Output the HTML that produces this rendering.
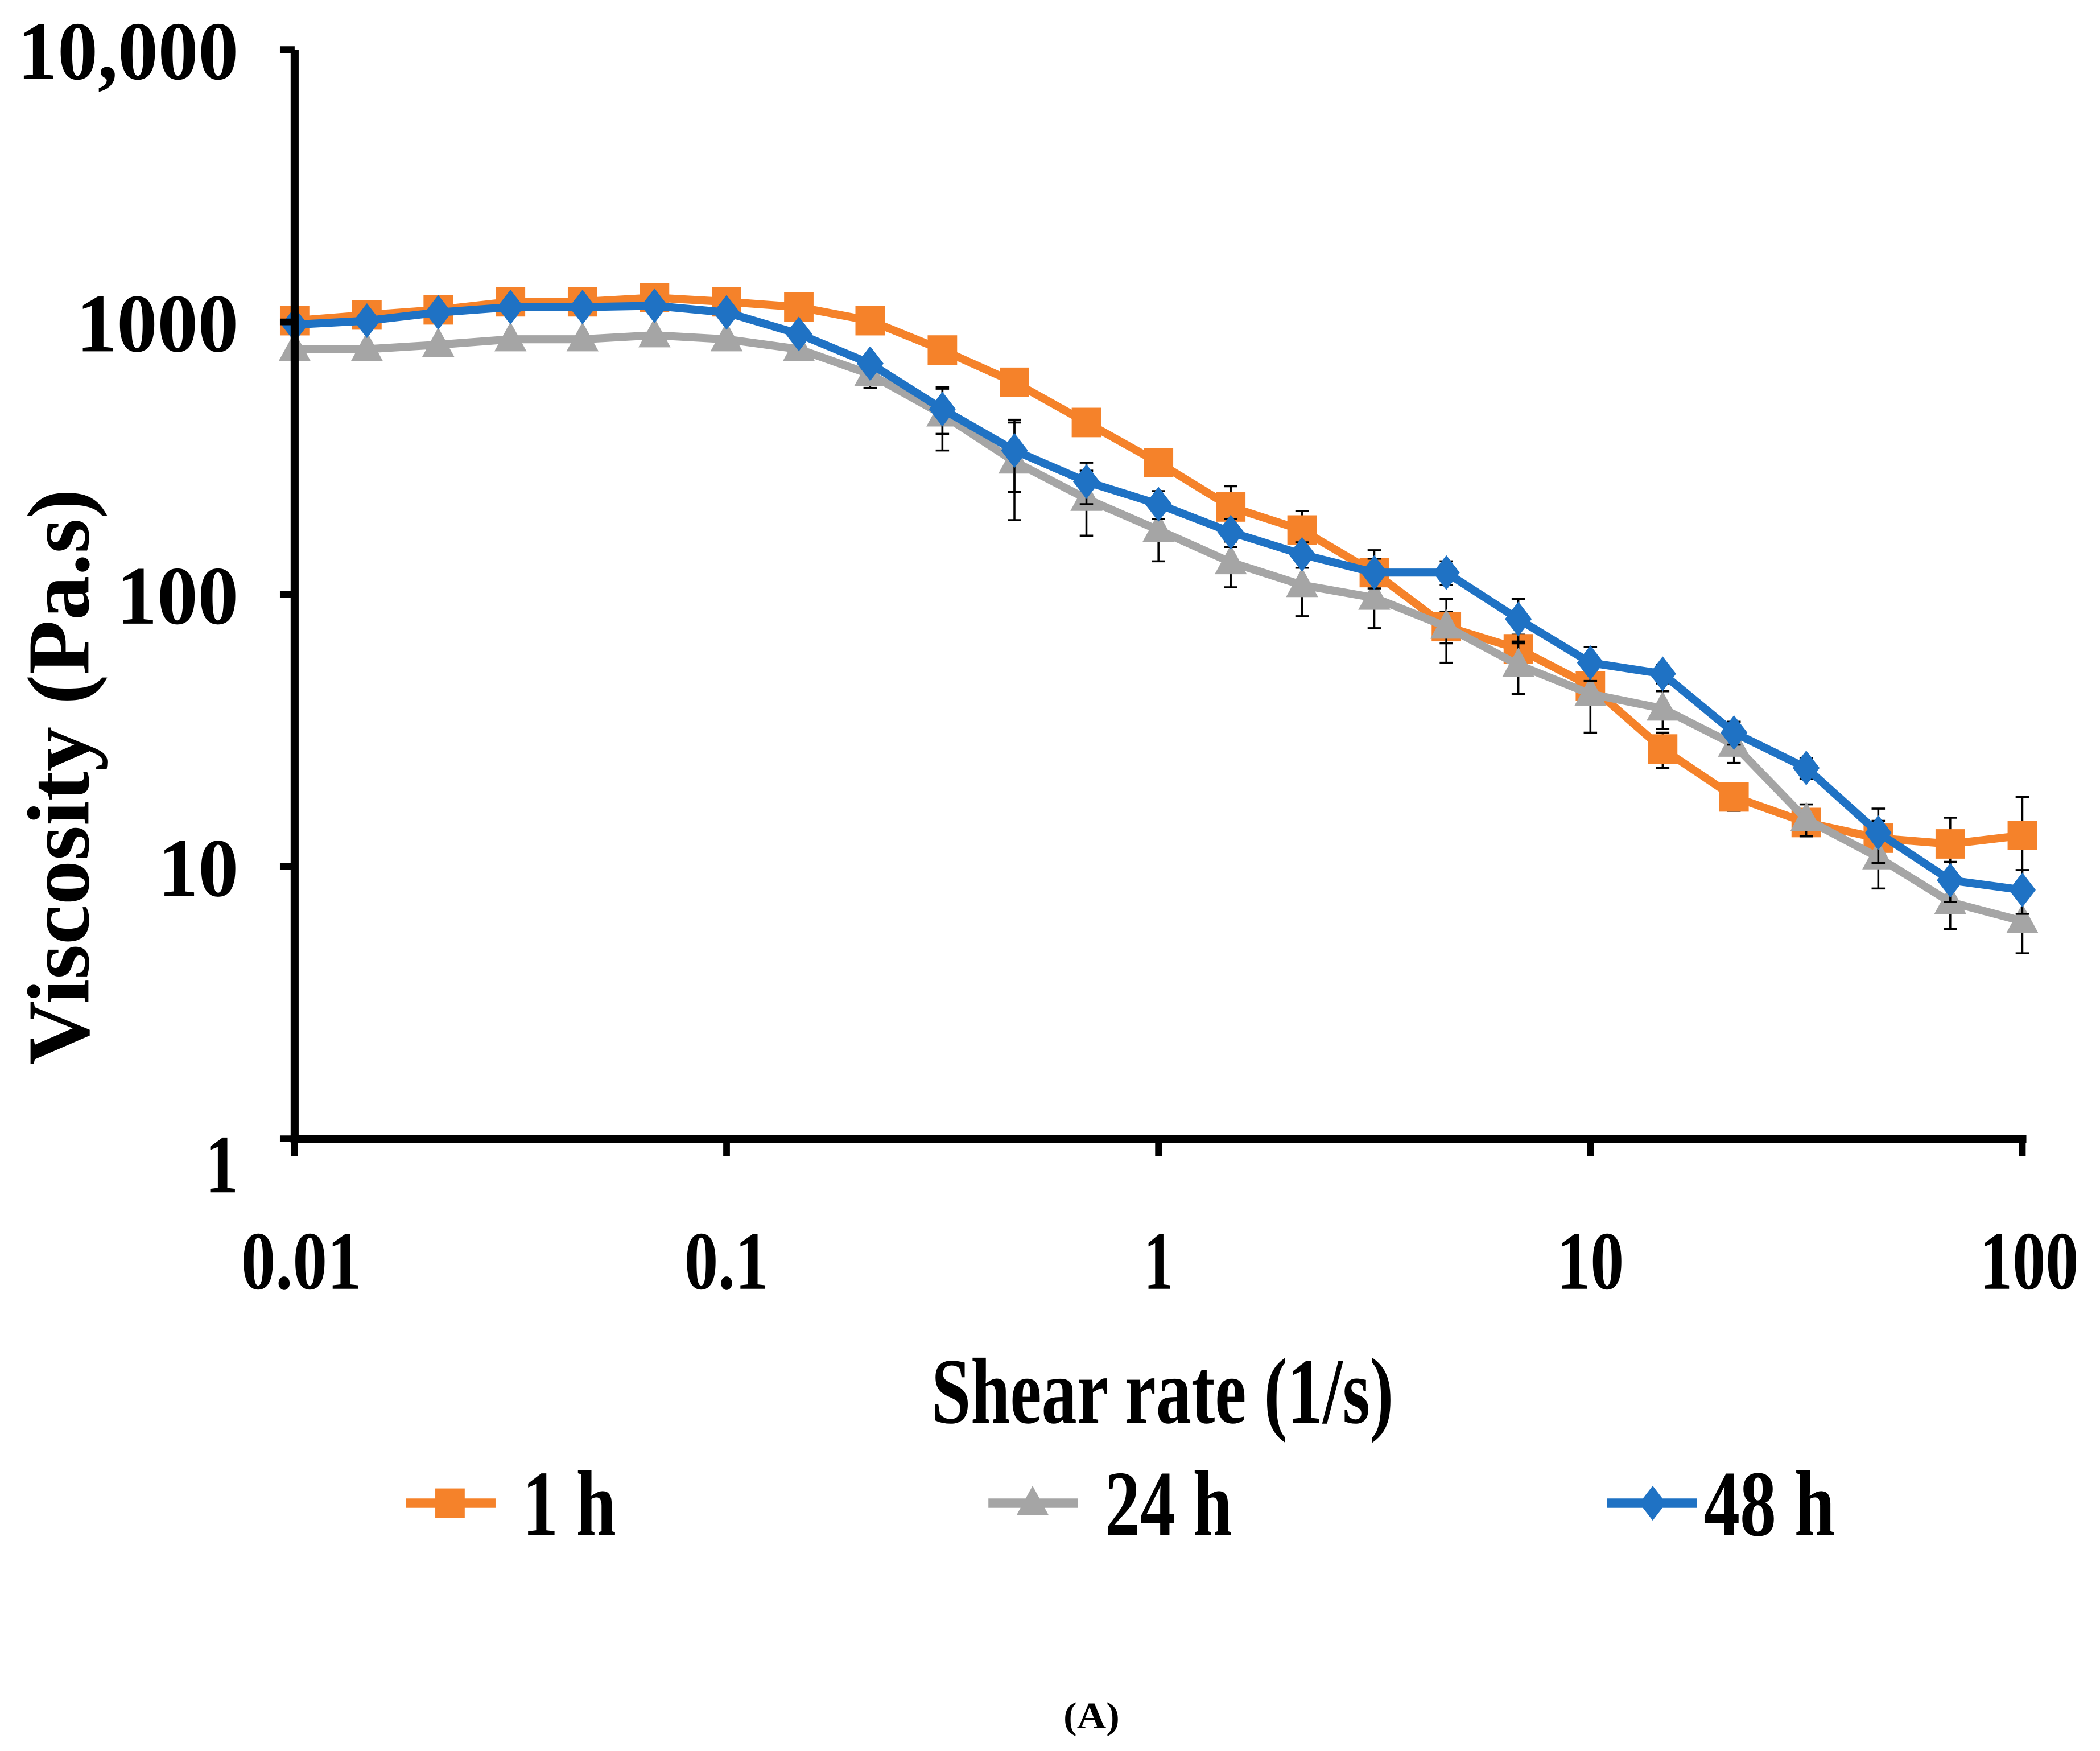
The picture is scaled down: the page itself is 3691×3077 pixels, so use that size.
<!DOCTYPE html>
<html><head><meta charset="utf-8"><style>
html,body{margin:0;padding:0;background:#fff;}
svg{display:block;}
text{font-family:"Liberation Serif",serif;font-weight:bold;fill:#000;}
</style></head><body>
<svg id="chart" width="3691" height="3077" viewBox="0 0 1568 1307" preserveAspectRatio="none" xmlns="http://www.w3.org/2000/svg">
<g id="grid"></g><g id="series"></g><g id="axes"></g>
</svg>
<script>
const shearRates = [0.01,0.0147,0.0215,0.0316,0.0464,0.0681,0.1,0.147,0.215,0.316,0.464,0.681,1,1.47,2.15,3.16,4.64,6.81,10,14.7,21.5,31.6,46.4,68.1,100];
const visc1h  = [1010,1060,1107,1185,1185,1227,1185,1133,1010,788,600,427,304,209,172,120,76,63,46,27,18,14.5,12.7,12.1,13];
const visc24h = [794,794,824,863,863,893,863,794,642,457,307,224,172,131,108,97,76,55,43,38,28,14.9,10.8,7.4,6.3];
const visc48h = [977,1010,1083,1133,1133,1146,1083,903,703,478,337,259,214,169,140,120,120,81,56,51,31,23,13.3,8.9,8.2];
const err1h   = [0,0,0,0,0,0,0,0,30,40,40,30,20,40,30,25,10,8,6,4,2,1.5,2,3,5];
const err24h  = [0,0,0,0,0,0,0,0,70,120,120,60,40,25,25,22,20,12,12,6,4,2,2.5,1.5,1.5];
const err48h  = [0,0,0,0,0,0,0,0,40,90,100,45,25,20,15,15,12,15,8,4,3,2,3,1.5,1.5];
const yTicks = [1,10,100,1000,10000];
const yTickLabels = ["1","10","100","1000","10,000"];
const xTicks = [0.01,0.1,1,10,100];
const xTickLabels = ["0.01","0.1","1","10","100"];
const legendLabels = ["1 h","24 h","48 h"];

const NS="http://www.w3.org/2000/svg";
const X0=220,X1=1510,Y0=850,Y1=37;
function xs(v){return X0+(Math.log10(v)+2)/4*(X1-X0);}
function ys(v){return Y0-Math.log10(v)/4*(Y0-Y1);}
function mk(tag,attrs,parent){const e=document.createElementNS(NS,tag);for(const k in attrs)e.setAttribute(k,attrs[k]);parent.appendChild(e);return e;}
const axes=document.getElementById('axes'), ser=document.getElementById('series');
const yLabW={"1":25,"10":60,"100":91,"1000":121,"10,000":165};
const xLabW={"0.01":90,"0.1":63,"1":22,"10":50,"100":74};

let a=mk('line',{x1:X0,y1:Y1,x2:X0,y2:Y0+3,stroke:'#000','stroke-width':6},axes);


a=mk('line',{x1:X0-3,y1:Y0,x2:X1+3,y2:Y0,stroke:'#000','stroke-width':6},axes);


yTicks.forEach((v,i)=>{
  const t=mk('line',{x1:X0-11,y1:ys(v),x2:X0,y2:ys(v),stroke:'#000','stroke-width':5},axes);
  
  
  const l=mk('text',{x:178,y:ys(v)+(v===1?40:22),'text-anchor':'end','font-size':62,textLength:yLabW[yTickLabels[i]],lengthAdjust:'spacingAndGlyphs'},axes);
  l.textContent=yTickLabels[i];
  
  
});
xTicks.forEach((v,i)=>{
  const t=mk('line',{x1:xs(v),y1:Y0,x2:xs(v),y2:Y0+13,stroke:'#000','stroke-width':5},axes);
  
  
  const l=mk('text',{x:xs(v)+(i===4?5:(i===0?5:0)),y:962,'text-anchor':'middle','font-size':62,textLength:xLabW[xTickLabels[i]],lengthAdjust:'spacingAndGlyphs'},axes);
  l.textContent=xTickLabels[i];
  
  
});
let t=mk('text',{x:868,y:1062,'text-anchor':'middle','font-size':70,textLength:345,lengthAdjust:'spacingAndGlyphs'},axes);
t.textContent='Shear rate (1/s)';


t=mk('text',{x:0,y:0,'text-anchor':'middle','font-size':66,textLength:430,lengthAdjust:'spacingAndGlyphs',transform:'translate(66,580) rotate(-90)'},axes);
t.textContent='Viscosity (Pa.s)';


t=mk('text',{x:815,y:1290,'text-anchor':'middle','font-size':28,textLength:42,lengthAdjust:'spacingAndGlyphs'},axes);
t.textContent='(A)';



function marker(type,cx,cy,color,parent){
  let m;
  if(type==='square') m=mk('rect',{x:cx-11,y:cy-11,width:22,height:22,fill:color},parent);
  else if(type==='tri') m=mk('polygon',{points:`${cx},${cy-13} ${cx+12},${cy+9} ${cx-12},${cy+9}`,fill:color},parent);
  else m=mk('polygon',{points:`${cx},${cy-13} ${cx+10},${cy} ${cx},${cy+13} ${cx-10},${cy}`,fill:color},parent);
  return m;
}
const seriesDefs=[
 {name:'1h',vals:visc1h,err:err1h,color:'#f5822a',m:'square'},
 {name:'24h',vals:visc24h,err:err24h,color:'#a5a5a5',m:'tri'},
 {name:'48h',vals:visc48h,err:err48h,color:'#1f72c4',m:'diamond'}
];
seriesDefs.forEach(s=>{
  const g=mk('g',{},ser);
  
  
  s.vals.forEach((v,i)=>{
    const e=s.err[i]; if(!e) return;
    const x=xs(shearRates[i]);
    const y1=ys(v+e), y2=ys(Math.max(v-e,0.5));
    const b=mk('path',{d:`M${x},${y1}V${y2}M${x-5},${y1}H${x+5}M${x-5},${y2}H${x+5}`,stroke:'#000','stroke-width':1.5,fill:'none'},g);
    
    
  });
  const pts=s.vals.map((v,i)=>xs(shearRates[i])+','+ys(v)).join(' ');
  const pl=mk('polyline',{points:pts,fill:'none',stroke:s.color,'stroke-width':6,'stroke-linejoin':'round'},g);
  
  
  s.vals.forEach((v,i)=>{
    const m=marker(s.m,xs(shearRates[i]),ys(v),s.color,g);
    
    
  });
});
const legX=[[303,336,390,70],[738,771,825,95],[1200,1234,1272,98]];
seriesDefs.forEach((s,i)=>{
  const g=mk('g',{},axes);
  
  
  mk('line',{x1:legX[i][0],y1:1122,x2:legX[i][0]+67,y2:1122,stroke:s.color,'stroke-width':7},g);
  marker(s.m,legX[i][1],1122,s.color,g);
  const l=mk('text',{x:legX[i][2],y:1146,'font-size':70,textLength:legX[i][3],lengthAdjust:'spacingAndGlyphs'},g);
  l.textContent=legendLabels[i];
  
  
});
</script>
</body></html>
